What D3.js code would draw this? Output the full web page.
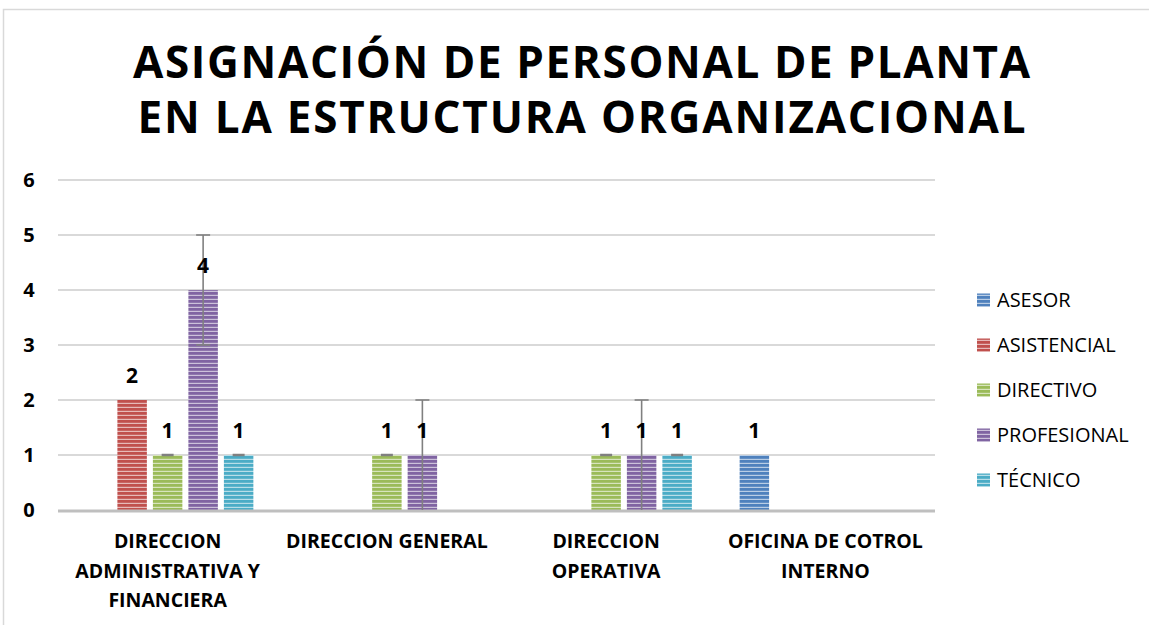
<!DOCTYPE html>
<html>
<head>
<meta charset="utf-8">
<script src="https://cdnjs.cloudflare.com/ajax/libs/d3/7.8.5/d3.min.js"></script>
<style>
  body { margin: 0; background: #fff; }
  svg { display: block; }
</style>
</head>
<body>
<svg id="chart"></svg>
<script>
// categories and series
const categories = ["DIRECCION ADMINISTRATIVA Y FINANCIERA", "DIRECCION GENERAL", "DIRECCION OPERATIVA", "OFICINA DE COTROL INTERNO"];
const categoryLines = [["DIRECCION", "ADMINISTRATIVA Y", "FINANCIERA"], ["DIRECCION GENERAL"], ["DIRECCION", "OPERATIVA"], ["OFICINA DE COTROL", "INTERNO"]];
const seriesNames = ["ASESOR", "ASISTENCIAL", "DIRECTIVO", "PROFESIONAL", "TÉCNICO"];
const asesor      = [null, null, null, 1];
const asistencial = [2, null, null, null];
const directivo   = [1, 1, 1, null];
const profesional = [4, 1, 1, null];
const tecnico     = [1, null, 1, null];
// error bar size per series (null = none)
const errorSize = [null, null, 0, 1, 0];
const yTicks = [0, 1, 2, 3, 4, 5, 6];
const titleLines = ["ASIGNACIÓN DE PERSONAL DE PLANTA", "EN LA ESTRUCTURA ORGANIZACIONAL"];

const colors = ["#4F81BD", "#C0504D", "#9BBB59", "#8064A2", "#4BACC6"];
const values = [asesor, asistencial, directivo, profesional, tecnico];

let width = 1149, height = 625;
var margin = {top: 180, right: 214, bottom: 115, left: 58},
    plotRight = width - margin.right,
    plotBottom = height - margin.bottom;

const font = "'Open Sans', Lato, sans-serif";

let svg = d3.select("#chart")
    .attr("width", width)
    .attr("height", height)
    .style("font-family", font);

// chart frame
svg.append("rect")
    .attr("x", 3.5).attr("y", 9.5)
    .attr("width", 1200).attr("height", 700)
    .attr("fill", "none")
    .attr("stroke", "#d9d9d9")
    .attr("stroke-width", 1.5);

// striped patterns, one per series
let defs = svg.append("defs");
seriesNames.forEach((name, i) => {
    let p = defs.append("pattern")
        .attr("id", "stripe" + i)
        .attr("patternUnits", "userSpaceOnUse")
        .attr("width", 8).attr("height", 4);
    p.append("rect").attr("width", 8).attr("height", 4).attr("fill", colors[i]);
    p.append("rect").attr("y", 2.8).attr("width", 8).attr("height", 1.2)
        .attr("fill", d3.interpolateRgb(colors[i], "#ffffff")(0.6));
});

// title
svg.append("g").selectAll("text")
    .data(titleLines)
    .enter()
    .append("text")
    .attr("x", 581.5)
    .attr("y", (d, i) => 78 + i * 55)
    .attr("text-anchor", "middle")
    .attr("textLength", (d, i) => i == 0 ? 897 : 888)
    .attr("lengthAdjust", "spacing")
    .style("font-size", "44px")
    .style("font-weight", "bold")
    .text(d => d);

// scales
const x0 = d3.scaleBand()
    .domain(categories)
    .range([margin.left, plotRight])
    .padding(0);

const groupInner = 177.5;
const x1 = d3.scaleBand()
    .domain(seriesNames)
    .range([(x0.bandwidth() - groupInner) / 2, (x0.bandwidth() + groupInner) / 2])
    .paddingInner(0.17)
    .paddingOuter(0.085);

const y = d3.scaleLinear()
    .domain([0, 6])
    .range([plotBottom, margin.top]);

// gridlines
svg.append("g")
    .selectAll("line")
    .data(yTicks.filter(t => t > 0))
    .enter()
    .append("line")
    .attr("x1", margin.left).attr("x2", plotRight)
    .attr("y1", d => y(d)).attr("y2", d => y(d))
    .attr("stroke", "#d9d9d9")
    .attr("stroke-width", 2);

// y axis labels
let yAxis = svg.append("g")
    .attr("transform", "translate(" + margin.left + ",0)")
    .call(d3.axisLeft(y).tickValues(yTicks).tickFormat(d3.format("d")).tickSize(0).tickPadding(24));
yAxis.select(".domain").remove();
yAxis.selectAll("text")
    .attr("text-anchor", "middle")
    .attr("dx", "-5")
    .style("font-family", font)
    .style("font-size", "20px")
    .style("font-weight", "bold")
    .attr("fill", "#000");

// bars
let barData = [];
categories.forEach((cat, ci) => {
    seriesNames.forEach((s, si) => {
        if (values[si][ci] != null) {
            barData.push({cat: cat, series: s, si: si, value: values[si][ci], err: errorSize[si]});
        }
    });
});

let bars = svg.append("g");
bars.selectAll("rect")
    .data(barData)
    .enter()
    .append("rect")
    .attr("x", d => x0(d.cat) + x1(d.series))
    .attr("y", d => y(d.value))
    .attr("width", x1.bandwidth())
    .attr("height", d => y(0) - y(d.value))
    .attr("fill", d => "url(#stripe" + d.si + ")");

// x axis baseline
svg.append("line")
    .attr("x1", margin.left).attr("x2", plotRight)
    .attr("y1", y(0) + 1).attr("y2", y(0) + 1)
    .attr("stroke", "#bfbfbf")
    .attr("stroke-width", 3);

// error bars
let errs = barData.filter(d => d.err != null);
let errG = svg.append("g")
    .attr("stroke", "#808080")
    .attr("stroke-width", 1.6);
errs.forEach(d => {
    let cx = x0(d.cat) + x1(d.series) + x1.bandwidth() / 2;
    let lo = Math.max(0, d.value - d.err), hi = d.value + d.err;
    if (d.err > 0) {
        errG.append("line").attr("x1", cx).attr("x2", cx).attr("y1", y(lo)).attr("y2", y(hi));
        errG.append("line").attr("x1", cx - 7).attr("x2", cx + 7).attr("y1", y(hi)).attr("y2", y(hi));
        if (lo > 0) errG.append("line").attr("x1", cx - 7).attr("x2", cx + 7).attr("y1", y(lo)).attr("y2", y(lo));
    } else {
        errG.append("line").attr("x1", cx - 6).attr("x2", cx + 6).attr("y1", y(hi)).attr("y2", y(hi))
            .attr("stroke-width", 2.5);
    }
});

// data labels
svg.append("g")
    .selectAll("text")
    .data(barData)
    .enter()
    .append("text")
    .attr("x", d => x0(d.cat) + x1(d.series) + x1.bandwidth() / 2)
    .attr("y", d => y(d.value) - 17)
    .attr("text-anchor", "middle")
    .style("font-size", "21px")
    .style("font-weight", "bold")
    .text(d => d.value);

// category labels
let catG = svg.append("g");
categories.forEach((cat, ci) => {
    let t = catG.append("text")
        .attr("x", x0(cat) + x0.bandwidth() / 2)
        .attr("y", 548)
        .attr("text-anchor", "middle")
        .style("font-size", "19.5px")
        .style("font-weight", "bold");
    categoryLines[ci].forEach((line, li) => {
        t.append("tspan")
            .attr("x", x0(cat) + x0.bandwidth() / 2)
            .attr("dy", li == 0 ? 0 : 29.5)
            .text(line);
    });
});

// legend
let legend = svg.append("g")
    .selectAll("g")
    .data(seriesNames)
    .enter()
    .append("g")
    .attr("transform", (d, i) => "translate(977," + (300 + i * 45) + ")");
legend.append("rect")
    .attr("y", -6.5)
    .attr("width", 13).attr("height", 13)
    .attr("fill", (d, i) => "url(#stripe" + i + ")");
legend.append("text")
    .attr("x", 20)
    .attr("y", 7)
    .style("font-size", "20px")
    .text(d => d);
</script>
</body>
</html>
